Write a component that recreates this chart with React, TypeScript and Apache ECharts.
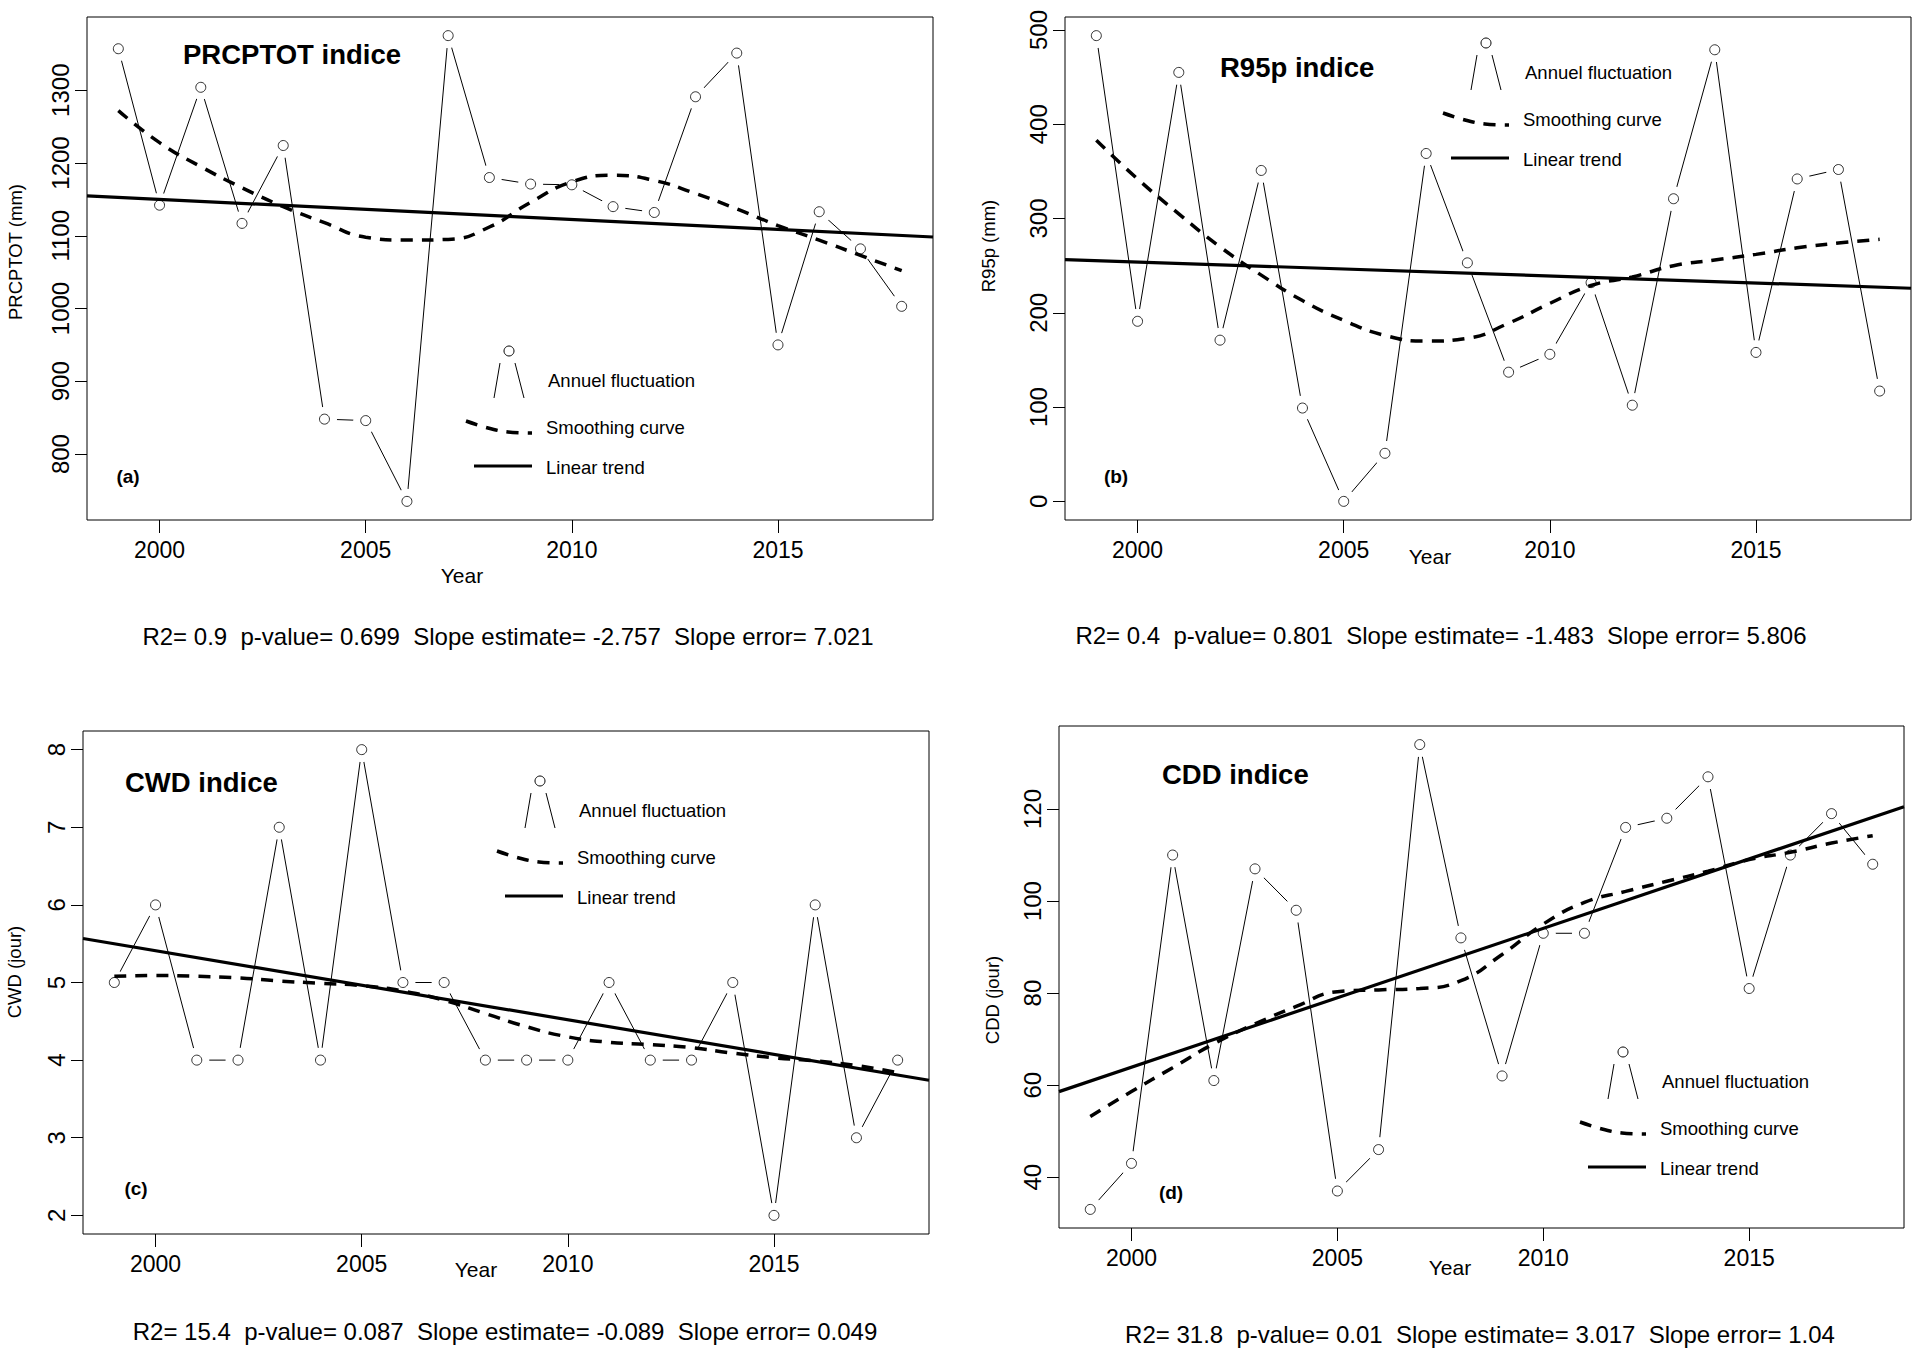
import React, { useEffect, useRef } from "react";
import * as echarts from "echarts";

const years = [1999, 2000, 2001, 2002, 2003, 2004, 2005, 2006, 2007, 2008, 2009, 2010, 2011, 2012, 2013, 2014, 2015, 2016, 2017, 2018];
const xTicks = [2000, 2005, 2010, 2015];

const prcptotValues = [1357, 1142, 1304, 1117, 1224, 848, 846, 735, 1375, 1180, 1171, 1170, 1140, 1132, 1291, 1351, 950, 1133, 1082, 1003];
const prcptotSmooth = [1272, 1228, 1195, 1166, 1140, 1118, 1098, 1094, 1095, 1112, 1146, 1174, 1183, 1176, 1158, 1137, 1114, 1094, 1073, 1052];
const prcptotTrend = [1150, -2.757]; // value at 2000, slope per year
const prcptotTicks = [800, 900, 1000, 1100, 1200, 1300];

const r95pValues = [494, 191, 455, 171, 351, 99, 0, 51, 369, 253, 137, 156, 232, 102, 321, 479, 158, 342, 352, 117];
const r95pSmooth = [383, 342, 305, 270, 240, 213, 192, 176, 170, 173, 189, 210, 229, 238, 250, 256, 262, 269, 274, 278];
const r95pTrend = [253.9, -1.483];
const r95pTicks = [0, 100, 200, 300, 400, 500];

const cwdValues = [5, 6, 4, 4, 7, 4, 8, 5, 5, 4, 4, 4, 5, 4, 4, 5, 2, 6, 3, 4];
const cwdSmooth = [5.08, 5.09, 5.08, 5.06, 5.02, 4.99, 4.96, 4.89, 4.77, 4.6, 4.43, 4.3, 4.23, 4.2, 4.16, 4.09, 4.03, 3.99, 3.93, 3.84];
const cwdTrend = [5.41, -0.089];
const cwdTicks = [2, 3, 4, 5, 6, 7, 8];

const cddValues = [33, 43, 110, 61, 107, 98, 37, 46, 134, 92, 62, 93, 93, 116, 118, 127, 81, 110, 119, 108];
const cddSmooth = [53.2, 58.6, 63.8, 69, 73.3, 77.1, 80.3, 80.7, 81, 82.7, 88.4, 95, 99.7, 102.1, 104.3, 106.5, 109, 110.6, 112.6, 114.2];
const cddTrend = [63.9, 3.017];
const cddTicks = [40, 60, 80, 100, 120];

const titles = ["PRCPTOT indice", "R95p indice", "CWD indice", "CDD indice"];
const panelTags = ["(a)", "(b)", "(c)", "(d)"];
const yTitles = ["PRCPTOT (mm)", "R95p (mm)", "CWD (jour)", "CDD (jour)"];
const statsTexts = [
  "R2= 0.9  p-value= 0.699  Slope estimate= -2.757  Slope error= 7.021",
  "R2= 0.4  p-value= 0.801  Slope estimate= -1.483  Slope error= 5.806",
  "R2= 15.4  p-value= 0.087  Slope estimate= -0.089  Slope error= 0.049",
  "R2= 31.8  p-value= 0.01  Slope estimate= 3.017  Slope error= 1.04",
];
const legendLabels = ["Annuel fluctuation", "Smoothing curve", "Linear trend"];
const xTitle = "Year";

const FONT = "'Liberation Sans', Arial, Helvetica, sans-serif";

const panelData = [
  { values: prcptotValues, smooth: prcptotSmooth, trend: prcptotTrend, ticks: prcptotTicks },
  { values: r95pValues, smooth: r95pSmooth, trend: r95pTrend, ticks: r95pTicks },
  { values: cwdValues, smooth: cwdSmooth, trend: cwdTrend, ticks: cwdTicks },
  { values: cddValues, smooth: cddSmooth, trend: cddTrend, ticks: cddTicks },
];

// layout (pixels)
const layout = [
  {
    grid: { left: 87, top: 17, width: 846, height: 503 },
    title: [183, 54], tag: [128, 476], yTitle: [15, 252], xTitle: [462, 575], stats: [508, 636], legend: [548, 380],
  },
  {
    grid: { left: 1065, top: 17, width: 846, height: 503 },
    title: [1220, 67], tag: [1116, 476], yTitle: [988, 246], xTitle: [1430, 556], stats: [1441, 635], legend: [1525, 72],
  },
  {
    grid: { left: 83, top: 731, width: 846, height: 503 },
    title: [125, 782], tag: [136, 1188], yTitle: [14, 972], xTitle: [476, 1269], stats: [505, 1331], legend: [579, 810],
  },
  {
    grid: { left: 1059, top: 726, width: 845, height: 502 },
    title: [1162, 774], tag: [1171, 1192], yTitle: [992, 1000], xTitle: [1450, 1267], stats: [1480, 1334], legend: [1662, 1081],
  },
];

function extent(arr: number[]) {
  const mn = Math.min(...arr);
  const mx = Math.max(...arr);
  const pad = (mx - mn) * 0.04;
  return [mn - pad, mx + pad];
}

function legendBlock(x0: number, y0: number): any[] {
  const black = "#000";
  return [
    { type: "line", shape: { x1: x0 - 48, y1: y0 - 17, x2: x0 - 54, y2: y0 + 18 }, style: { stroke: black, lineWidth: 1 } },
    { type: "line", shape: { x1: x0 - 33, y1: y0 - 17, x2: x0 - 24, y2: y0 + 18 }, style: { stroke: black, lineWidth: 1 } },
    { type: "circle", shape: { cx: x0 - 39, cy: y0 - 29, r: 5 }, style: { fill: "#fff", stroke: black, lineWidth: 1 } },
    {
      type: "polyline",
      shape: { points: [[x0 - 82, y0 + 41], [x0 - 60, y0 + 48], [x0 - 40, y0 + 52], [x0 - 16, y0 + 53]], smooth: 0.4 },
      style: { stroke: black, lineWidth: 3.5, lineDash: [12, 9], fill: null },
    },
    { type: "line", shape: { x1: x0 - 74, y1: y0 + 86, x2: x0 - 16, y2: y0 + 86 }, style: { stroke: black, lineWidth: 3.2 } },
    { type: "text", x: x0, y: y0, style: { text: legendLabels[0], fontSize: 18.5, fontFamily: FONT, fill: black, align: "left", verticalAlign: "middle" } },
    { type: "text", x: x0 - 2, y: y0 + 47, style: { text: legendLabels[1], fontSize: 18.5, fontFamily: FONT, fill: black, align: "left", verticalAlign: "middle" } },
    { type: "text", x: x0 - 2, y: y0 + 87, style: { text: legendLabels[2], fontSize: 18.5, fontFamily: FONT, fill: black, align: "left", verticalAlign: "middle" } },
  ];
}

function buildOption() {
  const xMin = years[0] - (years[years.length - 1] - years[0]) * 0.04;
  const xMax = years[years.length - 1] + (years[years.length - 1] - years[0]) * 0.04;

  const grids: any[] = [];
  const xAxes: any[] = [];
  const yAxes: any[] = [];
  const series: any[] = [];
  const graphics: any[] = [];

  panelData.forEach((p, i) => {
    const L = layout[i];
    grids.push({
      ...L.grid,
      show: true,
      borderColor: "#000",
      borderWidth: 1,
      backgroundColor: "transparent",
      containLabel: false,
      outerBoundsMode: "none",
    });
    xAxes.push({
      type: "value",
      gridIndex: i,
      position: "bottom",
      min: xMin,
      max: xMax,
      axisLine: { show: false, onZero: false },
      splitLine: { show: false },
      axisTick: { show: true, length: 13, customValues: xTicks, lineStyle: { color: "#000", width: 1 } },
      axisLabel: { customValues: xTicks, margin: 18, fontSize: 23, fontFamily: FONT, color: "#000", formatter: (v: number) => String(v) },
    });
    const [yMin, yMax] = extent(p.values);
    yAxes.push({
      type: "value",
      gridIndex: i,
      position: "left",
      min: yMin,
      max: yMax,
      axisLine: { show: false, onZero: false },
      splitLine: { show: false },
      axisTick: { show: true, length: 12, customValues: p.ticks, lineStyle: { color: "#000", width: 1 } },
      axisLabel: { customValues: p.ticks, rotate: 90, margin: 15, fontSize: 24, fontFamily: FONT, color: "#000", formatter: (v: number) => String(v) },
    });

    const pts = years.map((y, k) => [y, p.values[k]]);
    series.push({
      type: "line", xAxisIndex: i, yAxisIndex: i, data: pts, symbol: "none", silent: true, z: 3,
      lineStyle: { color: "#000", width: 1 },
    });
    series.push({
      type: "scatter", xAxisIndex: i, yAxisIndex: i, data: pts, symbol: "circle", symbolSize: 25, silent: true, z: 4,
      itemStyle: { color: "#fff", opacity: 1 },
    });
    series.push({
      type: "scatter", xAxisIndex: i, yAxisIndex: i, data: pts, symbol: "circle", symbolSize: 10, silent: true, z: 5,
      itemStyle: { color: "rgba(0,0,0,0)", borderColor: "#000", borderWidth: 1 },
    });
    series.push({
      type: "line", xAxisIndex: i, yAxisIndex: i, data: years.map((y, k) => [y, p.smooth[k]]), symbol: "none", smooth: true, silent: true, z: 6,
      lineStyle: { color: "#000", width: 3.5, type: [12, 9] },
    });
    const [b0, b1] = p.trend;
    series.push({
      type: "line", xAxisIndex: i, yAxisIndex: i,
      data: [[xMin, b0 + b1 * (xMin - 2000)], [xMax, b0 + b1 * (xMax - 2000)]],
      symbol: "none", silent: true, z: 7,
      lineStyle: { color: "#000", width: 3.2 },
    });

    graphics.push({
      type: "text", x: L.title[0], y: L.title[1],
      style: { text: titles[i], fontSize: 27.5, fontWeight: "bold", fontFamily: FONT, fill: "#000", align: "left", verticalAlign: "middle" },
    });
    graphics.push({
      type: "text", x: L.tag[0], y: L.tag[1],
      style: { text: panelTags[i], fontSize: 19, fontWeight: "bold", fontFamily: FONT, fill: "#000", align: "center", verticalAlign: "middle" },
    });
    graphics.push({
      type: "text", x: L.yTitle[0], y: L.yTitle[1], rotation: Math.PI / 2,
      style: { text: yTitles[i], fontSize: 18.5, fontFamily: FONT, fill: "#000", align: "center", verticalAlign: "middle" },
    });
    graphics.push({
      type: "text", x: L.xTitle[0], y: L.xTitle[1],
      style: { text: xTitle, fontSize: 21, fontFamily: FONT, fill: "#000", align: "center", verticalAlign: "middle" },
    });
    graphics.push({
      type: "text", x: L.stats[0], y: L.stats[1],
      style: { text: statsTexts[i], fontSize: 24, fontFamily: FONT, fill: "#000", align: "center", verticalAlign: "middle" },
    });
    graphics.push(...legendBlock(L.legend[0], L.legend[1]));
  });

  return {
    animation: false,
    backgroundColor: "#fff",
    grid: grids,
    xAxis: xAxes,
    yAxis: yAxes,
    series,
    graphic: { elements: graphics },
  };
}

export default function App() {
  const ref = useRef<HTMLDivElement>(null);
  useEffect(() => {
    document.body.style.margin = "0";
    if (!ref.current) return;
    const chart = echarts.init(ref.current, null, { renderer: "svg" });
    chart.setOption(buildOption() as any);
    return () => chart.dispose();
  }, []);
  return <div ref={ref} style={{ width: 1920, height: 1368, background: "#fff" }} />;
}
